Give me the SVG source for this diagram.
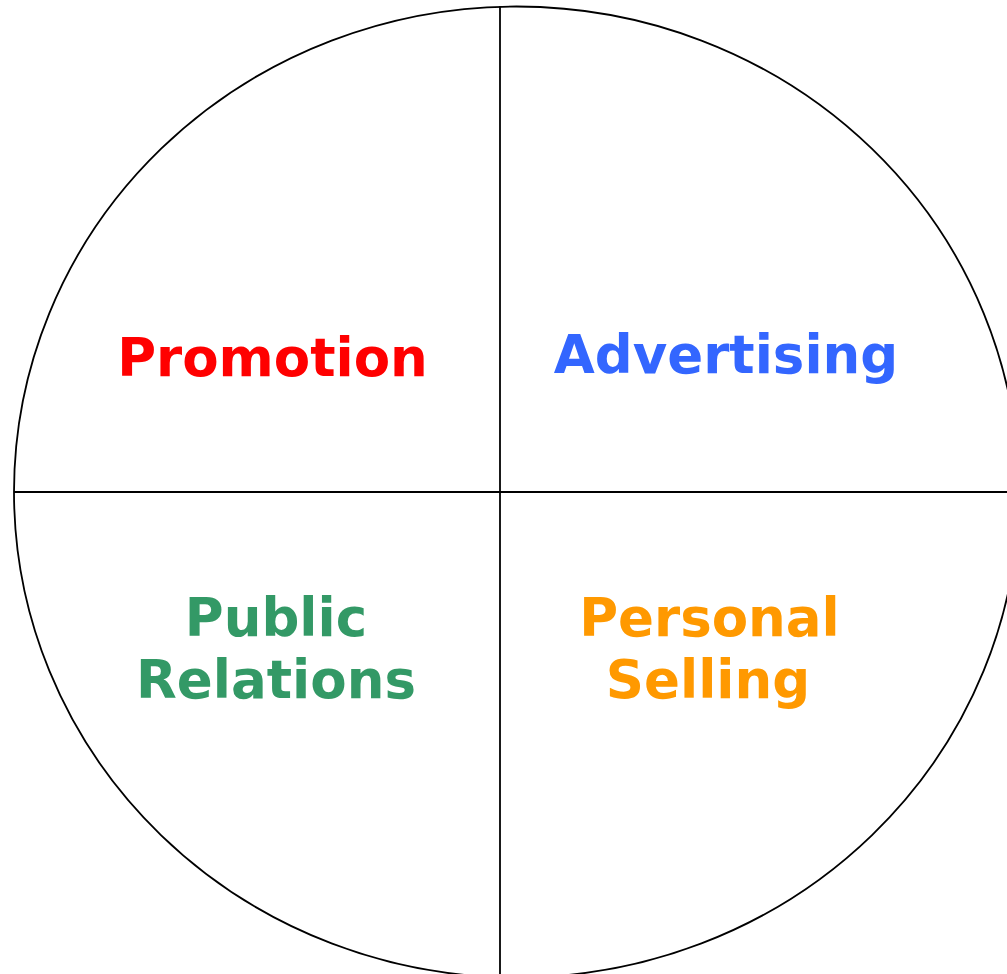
<svg xmlns="http://www.w3.org/2000/svg" width="1007" height="974" viewBox="0 0 1007 974">
  <style>
    .rim { fill: none; stroke: #000; stroke-width: 1.8; }
    .axis { stroke: #000; stroke-width: 1.8; }
    .lbl { font-family: "DejaVu Sans", Verdana, sans-serif; font-weight: bold; font-size: 53px; text-anchor: middle; }
  </style>
  <rect width="1007" height="974" fill="#fff"/>
  <g id="wheel">
    <ellipse class="rim" cx="516.5" cy="492" rx="502.5" ry="485.5"/>
  </g>
  <g id="dividers">
    <line class="axis" x1="14" y1="492" x2="1007" y2="492"/>
    <line class="axis" x1="500" y1="6" x2="500" y2="974"/>
  </g>
  <g id="promotion">
    <text class="lbl" x="272.5" y="376" fill="#FF0000">Promotion</text>
  </g>
  <g id="advertising">
    <text class="lbl" x="726" y="373" fill="#3366FF">Advertising</text>
  </g>
  <g id="public-relations">
    <text class="lbl" x="276" y="636" fill="#339966">Public</text>
    <text class="lbl" x="276" y="698" fill="#339966">Relations</text>
  </g>
  <g id="personal-selling">
    <text class="lbl" x="709.5" y="636" fill="#FF9900">Personal</text>
    <text class="lbl" x="708" y="698" fill="#FF9900">Selling</text>
  </g>
</svg>
